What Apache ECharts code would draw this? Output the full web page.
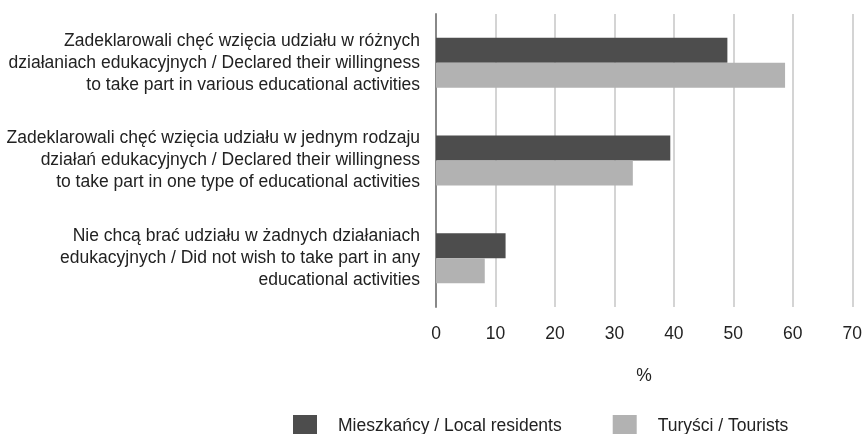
<!DOCTYPE html>
<html>
<head>
<meta charset="utf-8">
<script src="https://cdn.jsdelivr.net/npm/echarts@6/dist/echarts.min.js"></script>
<style>
  html, body { margin: 0; padding: 0; background: #fff; }
  #chart { width: 865px; height: 434px; }
</style>
</head>
<body>
<div id="chart"></div>
<script>
// kategorie (od góry)
var categories = [
    'Zadeklarowali chęć wzięcia udziału w różnych\ndziałaniach edukacyjnych / Declared their willingness\nto take part in various educational activities',
    'Zadeklarowali chęć wzięcia udziału w jednym rodzaju\ndziałań edukacyjnych / Declared their willingness\nto take part in one type of educational activities',
    'Nie chcą brać udziału w żadnych działaniach\nedukacyjnych / Did not wish to take part in any\neducational activities'
];
var seriesNames = ['Mieszkańcy / Local residents', 'Turyści / Tourists'];
var residents = [49.0, 39.4, 11.7];
var tourists = [58.7, 33.1, 8.2];
var xTicks = [0, 10, 20, 30, 40, 50, 60, 70];

var chart = echarts.init(document.getElementById('chart'));

var font = 'Liberation Sans, Arial, sans-serif';

var option = {
    animation: false,
    textStyle: { fontFamily: font },
    grid: { left: 436, right: 12, top: 14, bottom: 127, containLabel: false },
    legend: {
        data: seriesNames,
        left: 288,
        top: 410,
        itemWidth: 24,
        itemHeight: 23,
        itemGap: 51,
        icon: 'rect',
        textStyle: { fontSize: 17.5, color: '#222', fontFamily: font, padding: [0, 0, 0, 16] }
    },
    xAxis: {
        type: 'value',
        min: xTicks[0],
        max: xTicks[xTicks.length - 1],
        interval: 10,
        name: '%',
        nameLocation: 'middle',
        nameGap: 60,
        nameTextStyle: { fontSize: 17.5, color: '#222', fontFamily: font },
        axisLine: { show: false },
        axisTick: { show: false },
        axisLabel: { fontSize: 17.5, color: '#222', margin: 18, fontFamily: font },
        splitLine: { show: true, lineStyle: { color: '#c6c6c6', width: 1.5 } }
    },
    yAxis: {
        type: 'category',
        inverse: true,
        data: categories,
        axisLine: { show: true, lineStyle: { color: '#888', width: 2 } },
        axisTick: { show: false },
        axisLabel: {
            fontSize: 17.5,
            lineHeight: 22,
            color: '#222',
            align: 'right',
            margin: 16,
            fontFamily: font
        }
    },
    series: [
        {
            name: seriesNames[0],
            type: 'bar',
            data: residents,
            barWidth: 25,
            barGap: '0%',
            itemStyle: { color: '#4d4d4d' }
        },
        {
            name: seriesNames[1],
            type: 'bar',
            data: tourists,
            barWidth: 25,
            barGap: '0%',
            itemStyle: { color: '#b2b2b2' }
        }
    ]
};

chart.setOption(option);
</script>
</body>
</html>
